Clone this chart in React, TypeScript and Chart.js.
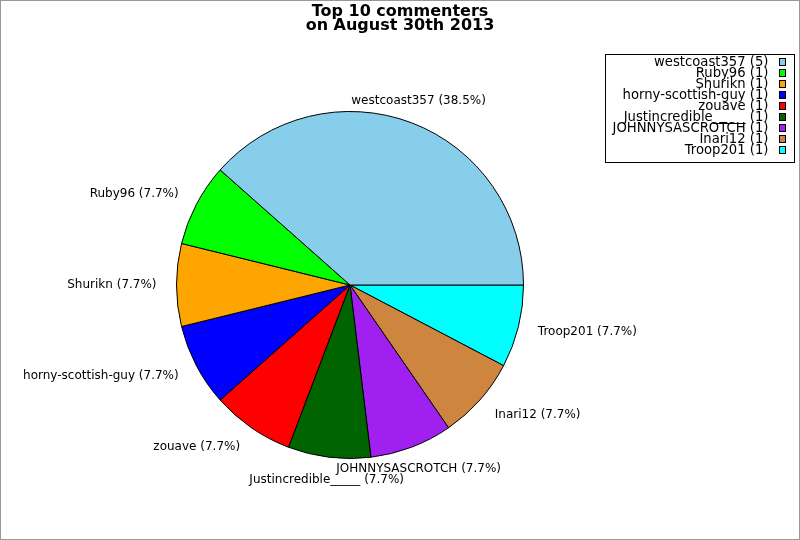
import React, { useEffect, useRef } from "react";
import { Chart, registerables } from "chart.js";

Chart.register(...registerables);

const titleLines = ["Top 10 commenters", "on August 30th 2013"];
const names = [
  "westcoast357",
  "Ruby96",
  "Shurikn",
  "horny-scottish-guy",
  "zouave",
  "Justincredible_____",
  "JOHNNYSASCROTCH",
  "Inari12",
  "Troop201",
];
const counts = [5, 1, 1, 1, 1, 1, 1, 1, 1];
const colors = [
  "#87CEEB",
  "#00FF00",
  "#FFA500",
  "#0000FF",
  "#FF0000",
  "#006400",
  "#A020F0",
  "#CD853F",
  "#00FFFF",
];

const FONT = '"DejaVu Sans", sans-serif';

export default function App() {
  const ref = useRef<HTMLCanvasElement | null>(null);

  useEffect(() => {
    if (!ref.current) return;
    const n = names.length;
    const total = counts.reduce((a, b) => a + b, 0);
    const revNames = [...names].reverse();
    const revCounts = [...counts].reverse();
    const revColors = [...colors].reverse();

    const decor = {
      id: "decor",
      beforeDraw(chart: any) {
        const ctx = chart.ctx;
        ctx.save();
        ctx.fillStyle = "#ffffff";
        ctx.fillRect(0, 0, chart.width, chart.height);
        ctx.restore();
      },
      afterDraw(chart: any) {
        const ctx = chart.ctx;
        ctx.save();
        // outer border
        ctx.strokeStyle = "#999999";
        ctx.lineWidth = 1;
        ctx.strokeRect(0.5, 0.5, chart.width - 1, chart.height - 1);

        // title
        ctx.fillStyle = "#000000";
        ctx.font = `bold 16px ${FONT}`;
        ctx.textAlign = "center";
        ctx.textBaseline = "alphabetic";
        ctx.fillText(titleLines[0], 400, 16);
        ctx.fillText(titleLines[1], 400, 29.5);

        // slice labels
        const meta = chart.getDatasetMeta(0);
        ctx.font = `12px ${FONT}`;
        for (let j = 0; j < n; j++) {
          const arc: any = meta.data[n - 1 - j];
          if (!arc) continue;
          const p = arc.getProps(["x", "y", "startAngle", "endAngle", "outerRadius"], true);
          const mid = (p.startAngle + p.endAngle) / 2;
          const R = p.outerRadius * 1.115;
          const px = p.x + R * Math.cos(mid);
          const py = p.y + R * Math.sin(mid);
          const c = Math.cos(mid);
          ctx.textAlign = Math.abs(c) < 0.5 ? "center" : c > 0 ? "left" : "right";
          const pct = ((counts[j] / total) * 100).toFixed(1);
          ctx.fillText(`${names[j]} (${pct}%)`, px, py + 3 + 3 * Math.sin(mid));
        }

        // legend
        const lx0 = 605.5, ly0 = 54.5, lx1 = 794.5, ly1 = 162.5;
        ctx.fillStyle = "#ffffff";
        ctx.fillRect(lx0, ly0, lx1 - lx0, ly1 - ly0);
        ctx.strokeStyle = "#000000";
        ctx.strokeRect(lx0, ly0, lx1 - lx0, ly1 - ly0);
        ctx.font = `13.2px ${FONT}`;
        ctx.textAlign = "right";
        for (let j = 0; j < n; j++) {
          const base = 66 + j * 11;
          ctx.fillStyle = "#000000";
          ctx.fillText(`${names[j]} (${counts[j]})`, 768.5, base);
          ctx.fillStyle = colors[j];
          ctx.fillRect(779.5, base - 7.5, 6, 7);
          ctx.strokeStyle = "#000000";
          ctx.strokeRect(779.5, base - 7.5, 6, 7);
        }
        ctx.restore();
      },
    };

    const chart = new Chart(ref.current, {
      type: "pie",
      data: {
        labels: revNames,
        datasets: [
          {
            data: revCounts,
            backgroundColor: revColors,
            borderColor: "#000000",
            borderWidth: 1,
            hoverOffset: 0,
          },
        ],
      },
      options: {
        animation: false,
        responsive: false,
        events: [],
        rotation: 90,
        layout: { padding: { left: 176, right: 276, top: 111, bottom: 81 } },
        plugins: {
          legend: { display: false },
          title: { display: false },
          tooltip: { enabled: false },
        },
      },
      plugins: [decor],
    });
    return () => chart.destroy();
  }, []);

  return (
    <div style={{ position: "absolute", left: 0, top: 0, width: 800, height: 540 }}>
      <canvas ref={ref} width={800} height={540} style={{ width: 800, height: 540, display: "block" }} />
    </div>
  );
}
